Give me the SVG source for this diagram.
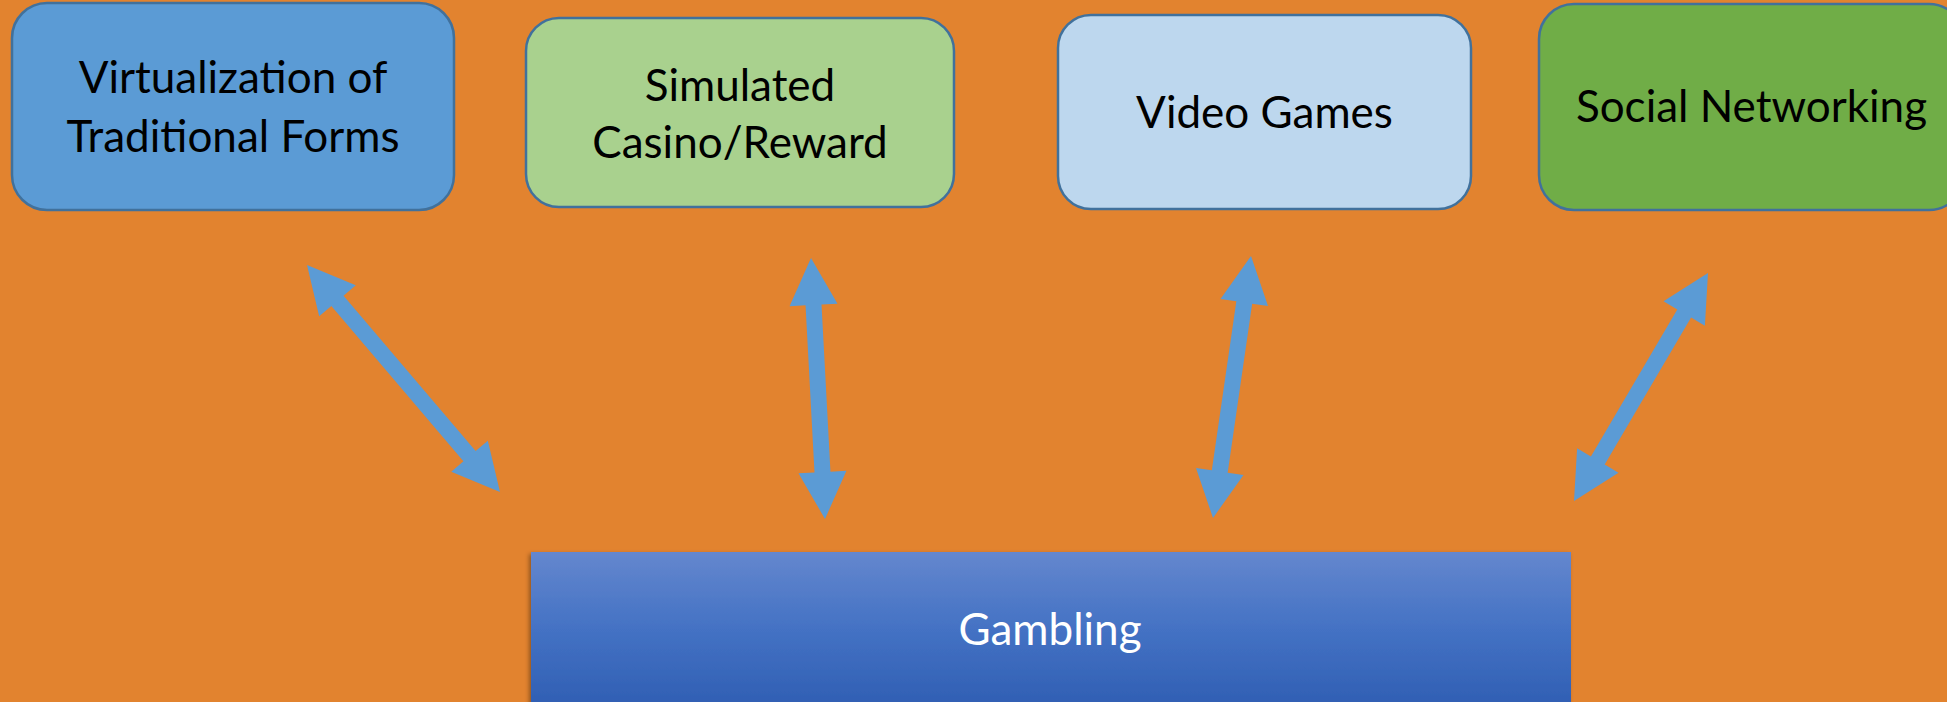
<svg xmlns="http://www.w3.org/2000/svg" width="1947" height="702" viewBox="0 0 1947 702">
<defs>
<style>
.box{stroke:#41719C;stroke-width:2.5}
.lbl{font-family:Lato,"Open Sans","Liberation Sans",sans-serif;font-size:44px;fill:#000;text-anchor:middle}
.arr{fill:#5B9BD5}
</style>
<linearGradient id="gg" x1="0" y1="0" x2="0" y2="1">
<stop offset="0" stop-color="#6487CE"/>
<stop offset="0.45" stop-color="#4472C4"/>
<stop offset="1" stop-color="#2C5BB0"/>
</linearGradient>
<filter id="sh" x="-5%" y="-10%" width="110%" height="130%">
<feDropShadow dx="-2" dy="2" stdDeviation="2" flood-color="#000" flood-opacity="0.35"/>
</filter>
</defs>
<rect width="1947" height="702" fill="#E2832F"/>
<g id="node-virtualization">
<rect class="box" x="12" y="3" width="442" height="207" rx="35" fill="#5B9BD5"/>
<text class="lbl" x="233" y="93">Virtualization of</text>
<text class="lbl" x="233" y="152">Traditional Forms</text>
</g>
<g id="node-simulated">
<rect class="box" x="526" y="18" width="428" height="189" rx="33" fill="#A9D18E"/>
<text class="lbl" x="740" y="101">Simulated</text>
<text class="lbl" x="740" y="158">Casino/Reward</text>
</g>
<g id="node-videogames">
<rect class="box" x="1058" y="15" width="413" height="194" rx="33" fill="#BDD7EE"/>
<text class="lbl" x="1264.5" y="128">Video Games</text>
</g>
<g id="node-social">
<rect class="box" x="1539" y="4" width="425" height="206" rx="35" fill="#70AD47"/>
<text class="lbl" x="1751.5" y="122">Social Networking</text>
</g>
<g id="node-gambling">
<rect x="531" y="552" width="1040" height="170" fill="url(#gg)" filter="url(#sh)"/>
<text class="lbl" x="1050" y="645" style="fill:#fff">Gambling</text>
</g>
<g id="connectors">
<polygon class="arr" points="307,265 319.16,316.36 331.35,305.99 463.45,461.37 451.26,471.74 500,492 487.84,440.64 475.65,451.01 343.55,295.63 355.74,285.26"/>
<polygon class="arr" points="811,258 789.55,306.22 805.53,305.36 814.49,472.5 798.51,473.36 825,519 846.45,470.78 830.47,471.64 821.51,304.5 837.49,303.64"/>
<polygon class="arr" points="1251,256 1220.5,299.07 1236.33,301.36 1211.83,470.34 1196,468.05 1213,518 1243.5,474.93 1227.67,472.64 1252.17,303.66 1268,305.95"/>
<polygon class="arr" points="1708,273 1663.5,301.36 1677.29,309.47 1590.91,456.43 1577.12,448.32 1574,501 1618.5,472.64 1604.71,464.53 1691.09,317.57 1704.88,325.68"/>
</g>
</svg>
